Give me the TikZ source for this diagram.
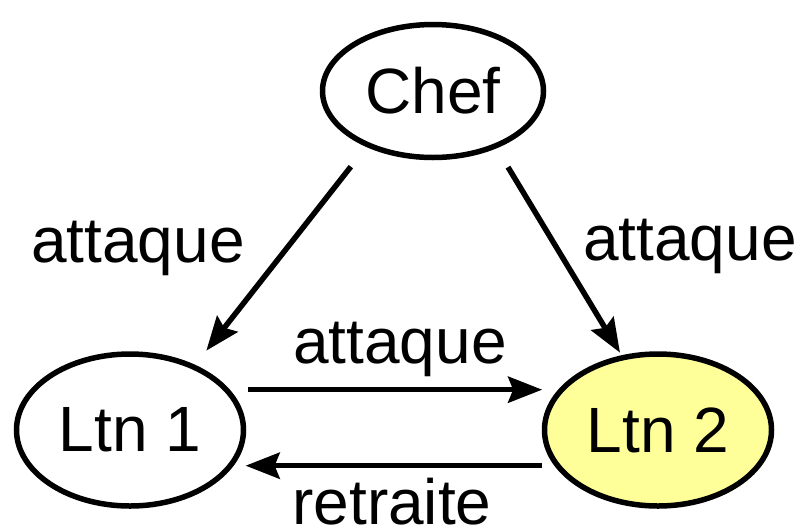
\documentclass[tikz,border=0pt]{standalone}
\usepackage{fontspec}
\setmainfont{Liberation Sans}
\usetikzlibrary{shapes.geometric,arrows.meta}
\definecolor{ltnjaune}{RGB}{255,255,153}

\begin{document}
\begin{tikzpicture}
  [x=1pt,y=-1pt,line width=5.5pt,font=\fontsize{64}{76}\selectfont,
   etat/.style={ellipse,draw,fill=white,inner sep=0pt,minimum width=227pt,minimum height=152pt},
   fleche/.style={-{Stealth[length=34pt,width=26pt,inset=5pt]}},
   lbl/.style={anchor=base,inner sep=0pt}]
  \useasboundingbox (0,0) rectangle (799,531);
  \node[etat, minimum width=221pt, minimum height=133pt] (chef) at (433,91) {Chef};
  \node[etat] (ltn1) at (130,430) {Ltn 1};
  \node[etat, fill=ltnjaune] (ltn2) at (658,430) {Ltn 2};

  \node[lbl] (lblg) at (138,262) {attaque};
  \node[lbl] (lbld) at (690,260) {attaque};
  \node[lbl] (lblm) at (400,363) {attaque};
  \node[lbl] (lblr) at (392,524) {retraite};

  \draw[fleche, shorten <=25pt, shorten >=18pt] (chef.220) -- (ltn1.45);
  \draw[fleche, shorten <=22pt, shorten >=3pt] (chef.318) -- (ltn2.116);
  \draw[fleche, shorten <=18pt, shorten >=16pt] (ltn1.22) -- (ltn2.158);
  \draw[fleche, shorten <=12pt, shorten >=12pt] (ltn2.199) -- (ltn1.341);
\end{tikzpicture}
\end{document}
